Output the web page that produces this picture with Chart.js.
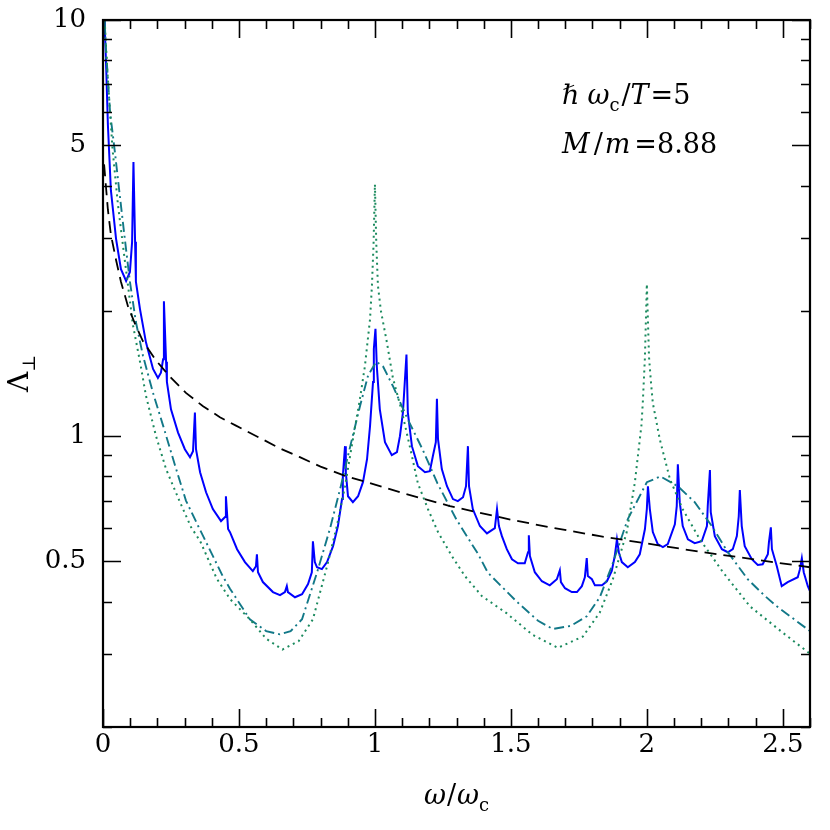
<!DOCTYPE html>
<html>
<head>
<meta charset="utf-8">
<script src="https://cdn.jsdelivr.net/npm/chart.js@4.4.0/dist/chart.umd.min.js"></script>
<style>
	html, body { margin: 0; padding: 0; background: #fff; }
	#wrap { width: 830px; height: 830px; }
</style>
</head>
<body>
<div id="wrap"><canvas id="chart" width="830" height="830"></canvas></div>
<script>
// values: [omega/omega_c, Lambda_perp]
const blueCurve = [
	[0.004,10.0],[0.007,9.36],[0.012,7.6],[0.018,5.6],[0.029,3.9],[0.048,2.98],[0.066,2.52],[0.085,2.36],
	[0.099,2.48],[0.107,2.93],[0.112,4.56],[0.118,2.93],[0.121,2.35],[0.136,2.02],[0.158,1.68],[0.184,1.45],
	[0.202,1.38],[0.213,1.42],[0.221,1.53],[0.224,2.11],[0.232,1.51],[0.235,1.35],[0.250,1.16],[0.276,1.02],
	[0.301,0.930],[0.320,0.890],[0.331,0.920],[0.338,1.14],[0.342,0.930],[0.357,0.819],[0.379,0.733],[0.404,0.668],
	[0.434,0.625],[0.449,0.639],[0.452,0.717],[0.460,0.598],[0.467,0.588],[0.493,0.535],[0.522,0.498],[0.551,0.474],
	[0.5625,0.487],[0.566,0.520],[0.570,0.471],[0.588,0.446],[0.625,0.422],[0.651,0.415],[0.669,0.422],[0.676,0.436],
	[0.680,0.422],[0.706,0.410],[0.732,0.417],[0.754,0.441],[0.768,0.471],[0.772,0.559],[0.779,0.498],[0.787,0.484],
	[0.805,0.479],[0.824,0.498],[0.846,0.544],[0.864,0.608],[0.879,0.706],[0.882,0.801],[0.890,0.946],[0.893,0.819],
	[0.901,0.717],[0.919,0.694],[0.938,0.717],[0.956,0.775],[0.971,0.880],[0.982,1.057],[0.993,1.35],[0.996,1.62],
	[1.002,1.81],[1.007,1.47],[1.018,1.16],[1.037,0.967],[1.062,0.900],[1.081,0.915],[1.092,1.0],[1.103,1.14],
	[1.116,1.57],[1.121,1.14],[1.136,0.946],[1.158,0.847],[1.184,0.819],[1.202,0.824],[1.213,0.895],[1.224,0.967],
	[1.228,1.23],[1.232,0.983],[1.246,0.833],[1.265,0.758],[1.287,0.706],[1.305,0.698],[1.324,0.713],[1.335,0.758],
	[1.342,0.946],[1.346,0.758],[1.360,0.668],[1.386,0.608],[1.412,0.584],[1.441,0.601],[1.449,0.668],[1.456,0.608],
	[1.467,0.575],[1.485,0.535],[1.504,0.506],[1.526,0.495],[1.551,0.495],[1.563,0.526],[1.566,0.578],[1.570,0.515],
	[1.588,0.471],[1.614,0.448],[1.643,0.438],[1.669,0.453],[1.680,0.476],[1.684,0.446],[1.699,0.431],[1.724,0.422],
	[1.743,0.422],[1.761,0.436],[1.772,0.458],[1.779,0.509],[1.783,0.461],[1.798,0.453],[1.809,0.438],[1.835,0.438],
	[1.853,0.448],[1.871,0.474],[1.882,0.515],[1.890,0.565],[1.897,0.526],[1.908,0.498],[1.930,0.484],[1.956,0.498],
	[1.974,0.520],[1.993,0.598],[2.000,0.668],[2.004,0.758],[2.011,0.668],[2.022,0.588],[2.040,0.550],[2.059,0.541],
	[2.077,0.550],[2.103,0.614],[2.110,0.679],[2.114,0.856],[2.121,0.694],[2.132,0.608],[2.151,0.565],[2.176,0.553],
	[2.202,0.559],[2.221,0.608],[2.224,0.679],[2.232,0.829],[2.235,0.657],[2.250,0.575],[2.276,0.535],[2.298,0.526],
	[2.316,0.535],[2.331,0.575],[2.338,0.642],[2.342,0.742],[2.349,0.608],[2.360,0.544],[2.386,0.506],[2.408,0.490],
	[2.426,0.492],[2.445,0.520],[2.449,0.556],[2.456,0.604],[2.460,0.535],[2.478,0.487],[2.496,0.436],[2.518,0.446],
	[2.555,0.458],[2.563,0.479],[2.570,0.509],[2.577,0.471],[2.592,0.436],[2.600,0.424]
];
const dashedCurve = [
	[0.004,4.5],[0.018,3.5],[0.029,3.05],[0.048,2.65],[0.066,2.35],[0.092,2.05],[0.118,1.86],[0.147,1.69],
	[0.195,1.52],[0.246,1.39],[0.305,1.27],[0.368,1.18],[0.43,1.11],[0.489,1.06],[0.577,0.99],[0.65,0.935],
	[0.724,0.89],[0.8,0.845],[0.897,0.80],[1.0,0.765],[1.092,0.733],[1.276,0.679],[1.5,0.63],[1.643,0.604],
	[1.827,0.575],[2.0,0.552],[2.2,0.527],[2.4,0.505],[2.6,0.484]
];
const dottedCurve = [
	[0.003,11],[0.015,7.7],[0.035,4.9],[0.055,3.6],[0.074,2.85],[0.092,2.3],[0.11,1.85],[0.136,1.51],
	[0.158,1.25],[0.195,1.0],[0.232,0.833],[0.283,0.694],[0.324,0.604],[0.357,0.56],[0.418,0.455],[0.467,0.406],
	[0.54,0.363],[0.6,0.326],[0.66,0.307],[0.72,0.322],[0.772,0.363],[0.824,0.487],[0.86,0.608],[0.89,0.758],
	[0.919,0.983],[0.945,1.23],[0.963,1.47],[0.982,1.91],[0.989,2.3],[0.995,2.9],[1.0,4.03],[1.005,2.9],
	[1.011,2.3],[1.022,2.0],[1.044,1.68],[1.066,1.38],[1.1,1.14],[1.129,0.94],[1.158,0.77],[1.195,0.668],
	[1.232,0.588],[1.283,0.515],[1.331,0.461],[1.393,0.413],[1.485,0.375],[1.58,0.333],[1.673,0.31],[1.765,0.33],
	[1.827,0.377],[1.875,0.453],[1.926,0.588],[1.956,0.775],[1.98,1.06],[1.985,1.2],[1.993,1.55],[2.0,2.32],
	[2.008,1.55],[2.015,1.35],[2.022,1.2],[2.048,0.98],[2.085,0.788],[2.132,0.667],[2.195,0.565],[2.28,0.471],
	[2.379,0.39],[2.5,0.337],[2.6,0.30]
];
const dashDotCurve = [
	[0.003,11],[0.011,8.5],[0.026,6.0],[0.044,4.8],[0.0625,3.75],[0.081,2.95],[0.099,2.35],[0.121,1.88],
	[0.147,1.56],[0.184,1.27],[0.221,1.06],[0.265,0.85],[0.305,0.70],[0.349,0.61],[0.441,0.46],[0.467,0.43],
	[0.54,0.363],[0.6,0.34],[0.65,0.334],[0.69,0.34],[0.732,0.363],[0.787,0.47],[0.835,0.60],[0.875,0.76],
	[0.91,0.95],[0.945,1.18],[0.975,1.40],[1.005,1.51],[1.03,1.47],[1.066,1.32],[1.12,1.10],[1.175,0.93],
	[1.23,0.77],[1.30,0.63],[1.38,0.52],[1.415,0.47],[1.522,0.40],[1.6,0.36],[1.654,0.344],[1.72,0.35],
	[1.779,0.369],[1.827,0.41],[1.871,0.487],[1.93,0.632],[2.0,0.775],[2.05,0.80],[2.114,0.758],[2.176,0.694],
	[2.239,0.608],[2.298,0.526],[2.371,0.453],[2.434,0.413],[2.478,0.39],[2.6,0.34]
];

const xTicks = [0,0.1,0.2,0.3,0.4,0.5,0.6,0.7,0.8,0.9,1,1.1,1.2,1.3,1.4,1.5,1.6,1.7,1.8,1.9,2,2.1,2.2,2.3,2.4,2.5,2.6];
const xLabeled = [0,0.5,1,1.5,2,2.5];
const yTicks = [0.2,0.3,0.4,0.5,0.6,0.7,0.8,0.9,1,2,3,4,5,6,7,8,9,10];
const yLabeled = [0.5,1,5,10];

const SERIF = '"DejaVu Serif", "Liberation Serif", serif';
const FS = 26;

function toXY(arr){
	return arr.map(p => ({x: p[0], y: p[1]}));
}

function drawParts(ctx, parts, x, y){
	let cx = x;
	for(const p of parts){
		ctx.font = p.font;
		ctx.fillText(p.text, cx, y + (p.dy || 0));
		cx += ctx.measureText(p.text).width + (p.gap || 0);
	}
	return cx - x;
}
function partsWidth(ctx, parts){
	let w = 0;
	for(const p of parts){
		ctx.font = p.font;
		w += ctx.measureText(p.text).width + (p.gap || 0);
	}
	return w;
}

const it = `italic 27px ${SERIF}`;
const rm = `27px ${SERIF}`;
const sub = `18px ${SERIF}`;

// frame, inward ticks, axis titles and the parameter note
const framePlugin = {
	id: 'frame',
	afterDraw(chart){
		const ctx = chart.ctx;
		const a = chart.chartArea;
		const xs = chart.scales.x, ys = chart.scales.y;
		ctx.save();
		ctx.strokeStyle = '#000';
		ctx.lineWidth = 1.6;
		ctx.beginPath();
		for(const v of xTicks){
			const px = Math.round(xs.getPixelForValue(v)) + 0.5;
			const len = xLabeled.includes(v) ? 18 : 9;
			ctx.moveTo(px, a.bottom); ctx.lineTo(px, a.bottom - len);
			ctx.moveTo(px, a.top); ctx.lineTo(px, a.top + len);
		}
		for(const v of yTicks){
			const py = Math.round(ys.getPixelForValue(v)) + 0.5;
			const len = yLabeled.includes(v) ? 18 : 9;
			ctx.moveTo(a.left, py); ctx.lineTo(a.left + len, py);
			ctx.moveTo(a.right, py); ctx.lineTo(a.right - len, py);
		}
		ctx.stroke();
		ctx.lineWidth = 2.2;
		ctx.strokeRect(a.left, a.top, a.right - a.left, a.bottom - a.top);

		ctx.fillStyle = '#000';
		ctx.textBaseline = 'alphabetic';
		ctx.textAlign = 'left';

		// x title
		const xt = [
			{text: 'ω', font: it, gap: 1},
			{text: '/', font: rm, gap: 1},
			{text: 'ω', font: it},
			{text: 'c', font: sub, dy: 7}
		];
		const xw = partsWidth(ctx, xt);
		drawParts(ctx, xt, (a.left + a.right) / 2 - xw / 2, 804);

		// y title, rotated
		const yt = [
			{text: 'Λ', font: `28px ${SERIF}`},
			{text: '⊥', font: sub, dy: 7}
		];
		const yw = partsWidth(ctx, yt);
		ctx.save();
		ctx.translate(28, (a.top + a.bottom) / 2);
		ctx.rotate(-Math.PI / 2);
		drawParts(ctx, yt, -yw / 2, 0);
		ctx.restore();

		// parameter note
		drawParts(ctx, [
			{text: 'ℏ', font: it, gap: 8},
			{text: 'ω', font: it},
			{text: 'c', font: sub, dy: 7, gap: 2},
			{text: '/', font: rm},
			{text: 'T', font: it, gap: 2},
			{text: '=5', font: rm}
		], 562, 104);
		drawParts(ctx, [
			{text: 'M', font: it, gap: 4},
			{text: '/', font: rm, gap: 2},
			{text: 'm', font: it, gap: 4},
			{text: '=8.88', font: rm}
		], 562, 153);
		ctx.restore();
	}
};

const chart = new Chart(document.getElementById('chart'), {
	type: 'scatter',
	data: {
		datasets: [
			{
				label: 'dashed',
				data: toXY(dashedCurve),
				borderColor: '#000',
				borderWidth: 1.8,
				borderDash: [12, 7]
			},
			{
				label: 'dotted',
				data: toXY(dottedCurve),
				borderColor: '#1b8a5e',
				borderWidth: 2,
				borderDash: [2, 4]
			},
			{
				label: 'dash-dot',
				data: toXY(dashDotCurve),
				borderColor: '#127888',
				borderWidth: 1.9,
				borderDash: [10, 4, 2, 4]
			},
			{
				label: 'blue',
				data: toXY(blueCurve),
				borderColor: '#0000ff',
				borderWidth: 2
			}
		]
	},
	options: {
		responsive: false,
		animation: false,
		devicePixelRatio: 1,
		showLine: true,
		elements: {
			point: { radius: 0, hoverRadius: 0 },
			line: { tension: 0, fill: false, borderCapStyle: 'butt' }
		},
		layout: { padding: { top: 20, right: 20, left: 0, bottom: 0 } },
		plugins: {
			legend: { display: false },
			tooltip: { enabled: false }
		},
		scales: {
			x: {
				type: 'linear',
				min: 0,
				max: 2.6,
				afterFit(s){ s.height = 103; s.paddingLeft = 0; s.paddingRight = 0; },
				afterBuildTicks(s){ s.ticks = xTicks.map(v => ({value: v})); },
				grid: { display: false, drawTicks: false },
				border: { display: false },
				ticks: {
					autoSkip: false,
					maxRotation: 0,
					padding: 3,
					color: '#000',
					font: { family: SERIF, size: FS },
					callback: v => xLabeled.includes(v) ? String(v) : ''
				}
			},
			y: {
				type: 'logarithmic',
				min: 0.2,
				max: 10,
				afterFit(s){ s.width = 103; s.paddingTop = 0; s.paddingBottom = 0; },
				afterBuildTicks(s){ s.ticks = yTicks.map(v => ({value: v})); },
				grid: { display: false, drawTicks: false },
				border: { display: false },
				ticks: {
					autoSkip: false,
					padding: 17,
					color: '#000',
					font: { family: SERIF, size: FS },
					callback: v => yLabeled.includes(v) ? String(v) : ''
				}
			}
		}
	},
	plugins: [framePlugin]
});
</script>
</body>
</html>
